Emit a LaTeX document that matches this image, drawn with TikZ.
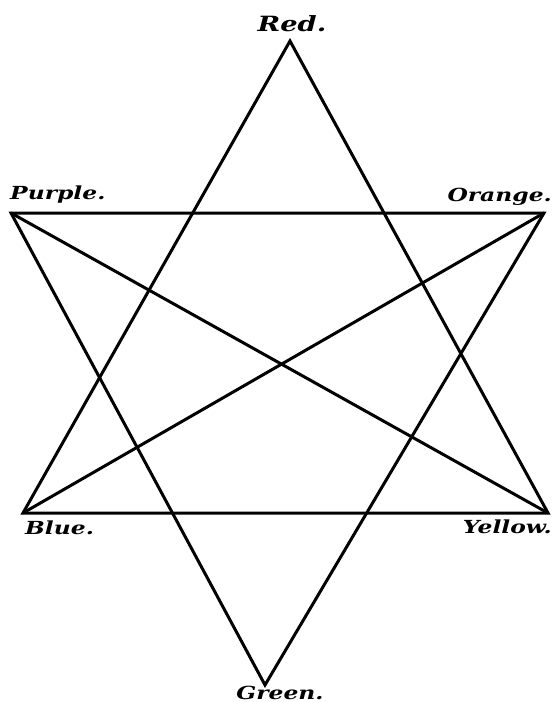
\documentclass[tikz,border=0pt]{standalone}
\usepackage{fontspec}
\setmainfont{DejaVu Serif}
\begin{document}
\begin{tikzpicture}[x=1pt,y=-1pt,
  star/.style={line width=3pt,line join=miter,line cap=round},
  lbl/.style={inner sep=0pt,anchor=base,font=\bfseries\itshape\fontsize{18}{18}\selectfont}]
  \useasboundingbox (0,0) rectangle (555,702);
  % points of the star
  \coordinate (red) at (290,41);
  \coordinate (purple) at (11,213);
  \coordinate (orange) at (544,213);
  \coordinate (blue) at (23,513);
  \coordinate (yellow) at (548,513);
  \coordinate (green) at (265,685);
  % the two triangles
  \draw[star] (red) -- (blue) -- (yellow) -- cycle;
  \draw[star] (purple) -- (orange) -- (green) -- cycle;
  % the two crossing lines
  \draw[star] (purple) -- (yellow);
  \draw[star] (orange) -- (blue);
  % names of the colours
  \node[lbl,font=\bfseries\itshape\fontsize{21}{21}\selectfont] (lred) at (292,31) {\scalebox{1.3}[1]{Red.}};
  \node[lbl,anchor=base west] (lpurple) at (10,199) {\scalebox{1.3}[1]{Purple.}};
  \node[lbl,anchor=base east] (lorange) at (552,201) {\scalebox{1.3}[1]{Orange.}};
  \node[lbl,anchor=base west] (lblue) at (25,534) {\scalebox{1.3}[1]{Blue.}};
  \node[lbl,anchor=base east] (lyellow) at (552,533) {\scalebox{1.3}[1]{Yellow.}};
  \node[lbl] (lgreen) at (280,699) {\scalebox{1.3}[1]{Green.}};
\end{tikzpicture}
\end{document}
